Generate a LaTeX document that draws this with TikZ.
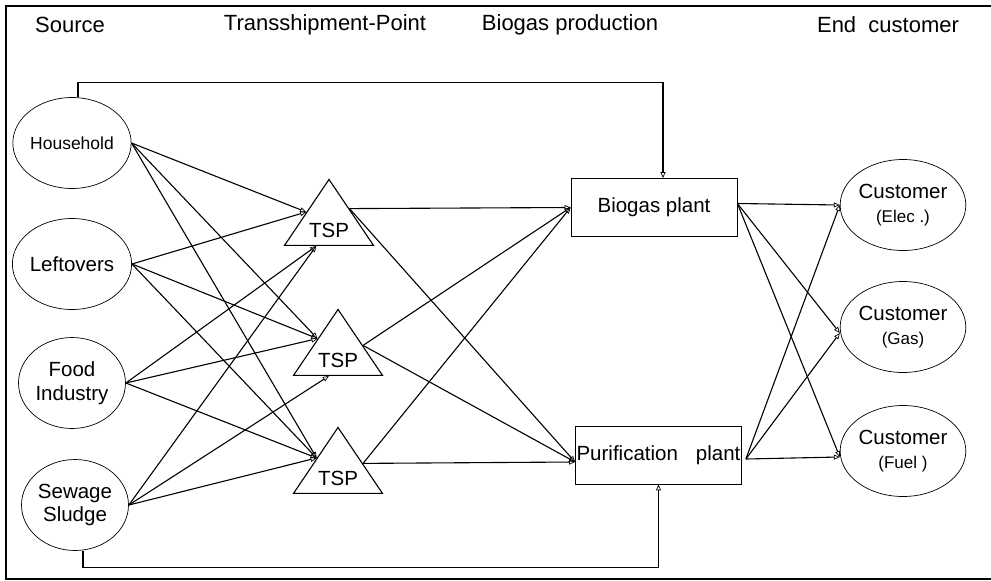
\documentclass[tikz,border=0pt]{standalone}
\usepackage{fontspec}
\setmainfont{Liberation Sans}
\usetikzlibrary{arrows.meta,calc,shapes.geometric}
\begin{document}
\begin{tikzpicture}[x=1pt,y=-1pt,
  src/.style={draw, ellipse, line width=0.7pt, minimum width=107pt, minimum height=91pt,
    inner sep=0pt, align=center, font=\fontsize{20.5}{23.5}\selectfont},
  cust/.style={src},
  tsp/.style={draw, isosceles triangle, shape border rotate=90, isosceles triangle stretches,
    minimum width=89pt, minimum height=66pt, inner sep=0pt, line width=1.1pt,
    font=\fontsize{20.5}{24}\selectfont},
  plant/.style={draw, rectangle, line width=0.8pt, minimum width=166pt, minimum height=58pt,
    inner sep=0pt, font=\fontsize{20.5}{24}\selectfont},
  flow/.style={line width=1.1pt, -{Triangle[open,length=6pt,width=5pt,line width=0.7pt]}},
  head/.style={font=\fontsize{22}{26}\selectfont}
]
\useasboundingbox (0,0) rectangle (991,581);
\draw[line width=1.8pt] (995,6) -- (6,6) -- (6,579) -- (995,579);

% column headings
\node[head] (hsrc) at (70,25) {Source};
\node[head] (htsp) at (325,25) {Transshipment-Point};
\node[head] (hbio) at (570,25) {Biogas production};
\node[head] (hend) at (888,25) {End~ customer};

% sources
\node[src, font=\fontsize{17.5}{20}\selectfont] (house) at (72,143) {Household};
\node[src] (left) at (72,264) {Leftovers};
\node[src] (food) at (72,383) {Food\\Industry};
\node[src] (sew) at (75,505) {Sewage\\Sludge};

% transshipment points
\node[tsp, anchor=apex] (t1) at (329,178) {TSP};
\node[tsp, anchor=apex] (t2) at (338,308) {TSP};
\node[tsp, anchor=apex] (t3) at (338,426) {TSP};

% plants
\node[plant] (bio) at (654,207.5) {Biogas plant};
\node[plant] (pur) at (658.5,455) {Purification\hspace{18pt}plant};

% customers
\node[cust] (elec) at (903,205) {Customer\\{\fontsize{17}{20}\selectfont (Elec .)}};
\node[cust] (gas) at (903,327) {Customer\\{\fontsize{17}{20}\selectfont (Gas)}};
\node[cust] (fuel) at (903,451) {Customer\\{\fontsize{17}{20}\selectfont (Fuel )}};

% points on the triangles
\coordinate (t1l) at ($(t1.apex)!0.5!(t1.left corner)$);
\coordinate (t1b) at ($(t1.left corner)!0.36!(t1.right corner)$);
\coordinate (t1r) at ($(t1.apex)!0.45!(t1.right corner)$);
\coordinate (t2l) at ($(t2.apex)!0.45!(t2.left corner)$);
\coordinate (t2b) at ($(t2.left corner)!0.4!(t2.right corner)$);
\coordinate (t2r) at ($(t2.apex)!0.55!(t2.right corner)$);
\coordinate (t3l) at ($(t3.apex)!0.47!(t3.left corner)$);
\coordinate (t3r) at ($(t3.apex)!0.55!(t3.right corner)$);

% source -> TSP
\foreach \s in {house,left} \draw[flow] (\s.east) -- (t1l);
\foreach \s in {food,sew} \draw[flow] (\s.east) -- (t1b);
\foreach \s in {house,left,food} \draw[flow] (\s.east) -- (t2l);
\draw[flow] (sew.east) -- (t2b);
\foreach \s in {house,left,food,sew} \draw[flow] (\s.east) -- (t3l);

% TSP -> plants
\coordinate (purin) at ($(pur.west)+(0,7)$);
\foreach \t in {t1r,t2r,t3r} {
  \draw[flow] (\t) -- (bio.west);
  \draw[flow] (\t) -- (purin);
}

% plants -> customers
\coordinate (bioout) at ($(bio.east)+(0,-4)$);
\coordinate (purout) at ($(pur.east)+(4,4)$);
\coordinate (celec) at (elec.west);
\coordinate (cgas) at ($(gas.west)+(0,6)$);
\coordinate (cfuel) at ($(fuel.west)+(0,6)$);
\foreach \c in {celec,cgas,cfuel} {
  \draw[flow] (bioout) -- (\c);
  \draw[flow] (purout) -- (\c);
}

% direct deliveries
\draw[flow] ([xshift=6pt]house.north) -- ++(0,-15) -| ([xshift=9pt]bio.north);
\draw[flow] ([xshift=8pt]sew.south) -- ++(0,17) -| (pur.south);
\end{tikzpicture}
\end{document}
